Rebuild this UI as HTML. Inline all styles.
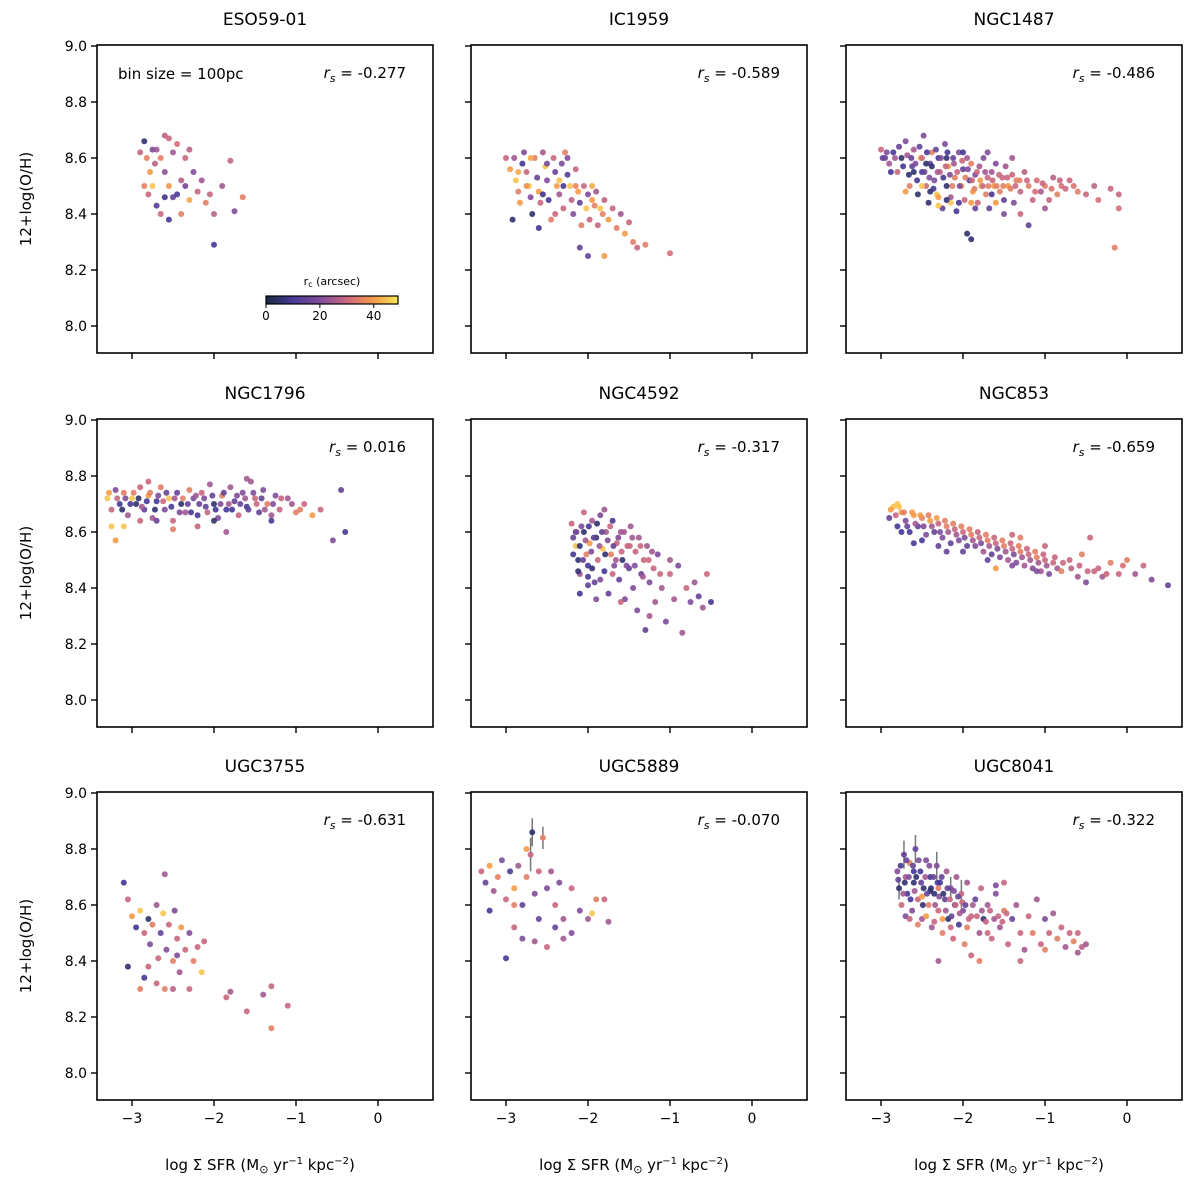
<!DOCTYPE html>
<html><head><meta charset="utf-8">
<style>
html,body{margin:0;padding:0;background:#fff;}
svg{display:block;font-family:"DejaVu Sans","Liberation Sans",sans-serif;}
</style></head>
<body>
<svg id="fig" width="1200" height="1184" viewBox="0 0 1200 1184" xmlns="http://www.w3.org/2000/svg"></svg>
<script>
const panelNames=["ESO59-01","IC1959","NGC1487","NGC1796","NGC4592","NGC853","UGC3755","UGC5889","UGC8041"];
const rsValues=["-0.277","-0.589","-0.486","0.016","-0.317","-0.659","-0.631","-0.070","-0.322"];
const xTicks=[-3,-2,-1,0];
const yTicks=[8.0,8.2,8.4,8.6,8.8,9.0];
const cbTicks=[0,20,40];
const d0=[[-2.9,8.62,30],[-2.85,8.66,5],[-2.82,8.6,35],[-2.78,8.55,40],[-2.75,8.5,45],[-2.8,8.47,30],[-2.72,8.58,28],[-2.7,8.63,25],[-2.65,8.6,35],[-2.6,8.68,28],[-2.55,8.67,30],[-2.5,8.62,25],[-2.45,8.65,32],[-2.6,8.55,22],[-2.55,8.5,40],[-2.5,8.46,15],[-2.45,8.47,10],[-2.4,8.4,35],[-2.35,8.6,30],[-2.3,8.63,28],[-2.25,8.55,20],[-2.2,8.48,30],[-2.15,8.52,25],[-2.1,8.44,35],[-2.05,8.47,30],[-2.0,8.4,28],[-1.9,8.5,25],[-1.8,8.59,30],[-1.75,8.41,20],[-1.65,8.46,35],[-2.0,8.29,10],[-2.55,8.38,10],[-2.7,8.43,12],[-2.65,8.4,30],[-2.85,8.5,35],[-2.4,8.52,28],[-2.3,8.45,42],[-2.35,8.5,18],[-2.6,8.46,8],[-2.75,8.63,20]];
const d1=[[-3.0,8.6,30],[-2.95,8.56,40],[-2.9,8.6,25],[-2.88,8.52,45],[-2.85,8.48,35],[-2.83,8.44,40],[-2.8,8.58,10],[-2.78,8.62,20],[-2.75,8.55,30],[-2.72,8.5,45],[-2.7,8.46,20],[-2.68,8.4,5],[-2.65,8.6,35],[-2.62,8.53,15],[-2.6,8.48,40],[-2.58,8.44,30],[-2.55,8.62,25],[-2.52,8.57,45],[-2.5,8.52,20],[-2.48,8.45,10],[-2.45,8.38,35],[-2.42,8.6,30],[-2.4,8.55,15],[-2.38,8.5,40],[-2.35,8.47,25],[-2.32,8.58,20],[-2.3,8.42,30],[-2.28,8.62,35],[-2.25,8.54,12],[-2.22,8.5,45],[-2.2,8.45,28],[-2.18,8.4,20],[-2.15,8.56,30],[-2.12,8.48,40],[-2.1,8.44,15],[-2.08,8.36,35],[-2.05,8.5,30],[-2.02,8.42,45],[-2.0,8.47,20],[-1.98,8.38,30],[-1.95,8.45,40],[-1.92,8.43,35],[-1.9,8.48,25],[-1.88,8.36,30],[-1.85,8.42,45],[-1.82,8.4,35],[-1.8,8.45,28],[-1.75,8.38,40],[-1.7,8.42,30],[-1.65,8.35,35],[-1.6,8.4,25],[-1.55,8.33,40],[-1.5,8.37,30],[-1.45,8.3,35],[-1.4,8.28,30],[-1.3,8.29,35],[-1.0,8.26,32],[-2.1,8.28,15],[-2.0,8.25,15],[-1.8,8.25,40],[-2.92,8.38,5],[-2.6,8.35,8],[-2.4,8.4,30],[-2.3,8.5,10],[-2.7,8.6,42],[-2.85,8.55,42],[-2.75,8.5,38],[-2.5,8.58,18],[-2.35,8.52,44],[-2.15,8.5,36],[-1.95,8.5,42],[-2.55,8.47,8],[-2.25,8.6,20]];
const d2=[[-3.0,8.63,30],[-2.95,8.6,15],[-2.9,8.58,25],[-2.85,8.62,10],[-2.8,8.55,30],[-2.75,8.6,5],[-2.7,8.66,20],[-2.65,8.5,35],[-2.62,8.57,15],[-2.6,8.63,25],[-2.55,8.47,5],[-2.52,8.6,45],[-2.5,8.55,10],[-2.48,8.68,20],[-2.45,8.5,30],[-2.42,8.44,5],[-2.4,8.58,15],[-2.38,8.62,35],[-2.35,8.52,20],[-2.32,8.47,45],[-2.3,8.6,10],[-2.28,8.55,30],[-2.25,8.42,15],[-2.22,8.65,20],[-2.2,8.5,5],[-2.18,8.57,40],[-2.15,8.46,25],[-2.12,8.6,15],[-2.1,8.53,35],[-2.08,8.41,10],[-2.05,8.62,20],[-2.02,8.5,40],[-2.0,8.56,15],[-1.98,8.45,30],[-1.95,8.6,25],[-1.92,8.52,10],[-1.9,8.58,35],[-1.88,8.48,40],[-1.85,8.54,20],[-1.82,8.44,30],[-1.8,8.57,25],[-1.78,8.5,45],[-1.75,8.6,20],[-1.72,8.47,35],[-1.7,8.53,30],[-1.68,8.42,15],[-1.65,8.55,25],[-1.62,8.5,40],[-1.6,8.58,20],[-1.55,8.48,35],[-1.52,8.53,30],[-1.5,8.45,15],[-1.48,8.57,25],[-1.45,8.5,40],[-1.4,8.54,30],[-1.38,8.44,20],[-1.35,8.52,35],[-1.3,8.48,30],[-1.25,8.55,28],[-1.2,8.5,35],[-1.15,8.45,30],[-1.1,8.52,32],[-1.05,8.48,25],[-1.0,8.5,35],[-0.95,8.45,30],[-0.9,8.53,28],[-0.85,8.47,35],[-0.8,8.5,32],[-0.7,8.52,30],[-0.6,8.48,35],[-0.5,8.47,30],[-0.4,8.5,28],[-0.35,8.45,32],[-0.2,8.49,30],[-0.15,8.28,35],[-0.1,8.42,32],[-0.1,8.47,30],[-1.95,8.33,5],[-1.9,8.31,5],[-1.5,8.4,20],[-1.3,8.4,30],[-1.2,8.36,15],[-1.0,8.42,25],[-2.3,8.43,45],[-2.6,8.55,5],[-2.45,8.58,5],[-2.2,8.6,5],[-2.0,8.62,10],[-1.7,8.62,20],[-1.4,8.6,25],
[-2.98,8.6,15],[-2.93,8.62,20],[-2.88,8.55,10],[-2.83,8.6,25],[-2.78,8.64,15],[-2.73,8.57,10],[-2.68,8.61,25],[-2.66,8.54,5],[-2.63,8.6,15],[-2.58,8.58,20],[-2.56,8.52,10],[-2.53,8.64,15],[-2.5,8.6,30],[-2.47,8.55,15],[-2.44,8.62,10],[-2.41,8.53,20],[-2.38,8.57,5],[-2.36,8.49,10],[-2.33,8.63,15],[-2.31,8.55,25],[-2.27,8.6,20],[-2.24,8.53,10],[-2.21,8.57,30],[-2.19,8.62,10],[-2.16,8.54,20],[-2.13,8.5,35],[-2.11,8.58,25],[-2.07,8.55,30],[-2.04,8.5,20],[-2.01,8.59,30],[-1.97,8.53,35],[-1.94,8.56,20],[-1.89,8.52,30],[-1.86,8.49,35],[-1.83,8.55,30],[-1.79,8.52,40],[-1.76,8.5,30],[-1.73,8.55,25],[-1.69,8.5,35],[-1.64,8.52,30],[-1.59,8.5,35],[-1.56,8.54,30],[-1.51,8.5,35],[-1.46,8.53,30],[-1.42,8.49,35],[-1.36,8.5,30],[-1.31,8.52,35],[-1.22,8.52,30],[-1.12,8.48,32],[-1.03,8.51,30],[-0.92,8.49,33],[-0.82,8.52,30],[-0.75,8.49,30],[-0.65,8.5,33],[-2.7,8.48,40],[-2.5,8.5,45],[-2.3,8.46,40],[-2.15,8.44,45],[-1.9,8.44,40],[-1.6,8.44,40],[-2.4,8.48,5],[-2.2,8.45,5],[-2.05,8.44,10],[-1.85,8.42,15],[-1.65,8.47,10]];
const d3=[[-3.3,8.72,45],[-3.25,8.68,30],[-3.2,8.75,20],[-3.2,8.57,40],[-3.15,8.7,10],[-3.1,8.74,35],[-3.05,8.66,25],[-3.0,8.72,45],[-2.95,8.7,5],[-2.9,8.76,30],[-2.85,8.68,15],[-2.8,8.73,40],[-2.75,8.65,25],[-2.7,8.71,10],[-2.65,8.76,35],[-2.6,8.68,20],[-2.55,8.72,45],[-2.5,8.64,30],[-2.45,8.74,15],[-2.4,8.7,5],[-2.35,8.67,25],[-2.3,8.75,35],[-2.25,8.72,20],[-2.2,8.66,10],[-2.15,8.74,30],[-2.1,8.69,15],[-2.05,8.77,25],[-2.0,8.7,5],[-1.95,8.65,20],[-1.9,8.73,35],[-1.85,8.68,10],[-1.8,8.76,25],[-1.75,8.71,15],[-1.7,8.66,30],[-1.65,8.74,20],[-1.6,8.69,10],[-1.55,8.78,25],[-1.5,8.72,30],[-1.45,8.67,15],[-1.4,8.75,20],[-1.35,8.7,35],[-1.3,8.66,25],[-1.25,8.73,20],[-1.2,8.68,30],[-1.1,8.72,25],[-1.0,8.67,35],[-0.9,8.7,30],[-0.8,8.66,40],[-0.7,8.68,30],[-0.45,8.75,15],[-0.55,8.57,20],[-0.4,8.6,10],[-3.1,8.62,45],[-2.9,8.64,30],[-2.5,8.61,35],[-2.2,8.62,30],[-1.85,8.6,25],[-2.0,8.64,5],[-2.7,8.64,15],[-1.3,8.64,10],[-3.25,8.62,45],[-2.8,8.78,30],[-1.6,8.79,25],
[-3.28,8.74,40],[-3.18,8.72,30],[-3.12,8.68,5],[-3.08,8.72,20],[-3.02,8.7,10],[-2.98,8.74,35],[-2.92,8.72,5],[-2.88,8.69,25],[-2.82,8.71,10],[-2.78,8.74,35],[-2.72,8.68,5],[-2.68,8.73,20],[-2.62,8.71,30],[-2.58,8.74,15],[-2.52,8.69,10],[-2.48,8.72,25],[-2.42,8.67,20],[-2.38,8.72,35],[-2.32,8.7,15],[-2.28,8.67,10],[-2.22,8.73,25],[-2.18,8.7,15],[-2.12,8.72,20],[-2.08,8.67,30],[-2.02,8.73,15],[-1.98,8.68,10],[-1.92,8.7,20],[-1.88,8.74,15],[-1.82,8.7,25],[-1.78,8.68,10],[-1.72,8.73,20],[-1.68,8.7,15],[-1.62,8.72,25],[-1.58,8.68,15],[-1.52,8.74,20],[-1.48,8.7,30],[-1.42,8.72,15],[-1.38,8.68,25],[-1.28,8.7,20],[-1.18,8.72,30],[-1.05,8.7,25],[-0.95,8.68,35]];
const d4=[[-2.2,8.63,30],[-2.18,8.58,15],[-2.15,8.55,45],[-2.12,8.5,5],[-2.1,8.45,25],[-2.08,8.62,20],[-2.05,8.6,5],[-2.02,8.52,35],[-2.0,8.48,10],[-1.98,8.56,40],[-1.95,8.64,25],[-1.92,8.42,15],[-1.9,8.58,5],[-1.88,8.5,30],[-1.85,8.66,20],[-1.82,8.54,45],[-1.8,8.46,10],[-1.78,8.6,25],[-1.75,8.38,15],[-1.72,8.52,35],[-1.7,8.64,10],[-1.68,8.48,20],[-1.65,8.56,30],[-1.62,8.43,15],[-1.6,8.6,25],[-1.58,8.5,5],[-1.55,8.36,20],[-1.52,8.55,30],[-1.5,8.47,15],[-1.48,8.62,25],[-1.45,8.4,20],[-1.42,8.53,30],[-1.4,8.32,20],[-1.38,8.58,25],[-1.35,8.45,15],[-1.32,8.5,30],[-1.3,8.25,15],[-1.28,8.55,25],[-1.25,8.42,20],[-1.2,8.47,30],[-1.18,8.35,25],[-1.15,8.52,20],[-1.1,8.4,25],[-1.05,8.28,20],[-1.0,8.45,30],[-0.95,8.36,25],[-0.9,8.48,20],[-0.85,8.24,25],[-0.8,8.4,30],[-0.75,8.35,20],[-0.7,8.42,25],[-0.65,8.37,15],[-0.6,8.33,25],[-0.55,8.45,30],[-0.5,8.35,10],[-2.1,8.38,10],[-2.0,8.41,15],[-1.9,8.36,20],[-2.05,8.67,30],[-1.8,8.68,25],[-1.6,8.35,30],[-1.25,8.3,25],[-1.0,8.5,25],[-2.15,8.6,10],[-1.95,8.47,5],
[-2.18,8.52,10],[-2.14,8.6,20],[-2.1,8.55,5],[-2.06,8.5,15],[-2.03,8.57,25],[-1.99,8.62,10],[-1.96,8.53,20],[-1.93,8.58,15],[-1.89,8.63,5],[-1.86,8.55,25],[-1.83,8.6,15],[-1.79,8.52,5],[-1.76,8.57,20],[-1.73,8.62,30],[-1.69,8.55,15],[-1.66,8.5,25],[-1.63,8.58,20],[-1.59,8.53,30],[-1.56,8.6,25],[-1.53,8.48,20],[-1.49,8.55,30],[-1.46,8.58,25],[-1.43,8.48,20],[-1.36,8.55,30],[-1.33,8.44,25],[-1.26,8.5,30],[-1.22,8.53,25],[-1.12,8.45,30],[-2.12,8.46,5],[-2.0,8.44,10],[-1.85,8.43,20],[-1.7,8.45,30]];
const d5=[[-2.9,8.65,15],[-2.85,8.69,45],[-2.8,8.62,10],[-2.75,8.67,40],[-2.7,8.64,20],[-2.65,8.6,10],[-2.6,8.66,40],[-2.55,8.62,15],[-2.5,8.65,35],[-2.45,8.59,20],[-2.4,8.64,40],[-2.35,8.6,15],[-2.3,8.63,30],[-2.25,8.58,20],[-2.2,8.62,35],[-2.15,8.56,15],[-2.1,8.61,30],[-2.05,8.57,20],[-2.0,8.6,30],[-1.95,8.55,15],[-1.9,8.59,35],[-1.85,8.55,20],[-1.8,8.58,30],[-1.75,8.53,25],[-1.7,8.57,35],[-1.65,8.52,15],[-1.6,8.56,30],[-1.55,8.51,20],[-1.5,8.55,35],[-1.45,8.5,25],[-1.4,8.54,30],[-1.35,8.49,20],[-1.3,8.53,35],[-1.25,8.48,25],[-1.2,8.52,30],[-1.15,8.47,20],[-1.1,8.51,35],[-1.05,8.46,25],[-1.0,8.5,30],[-0.95,8.45,20],[-0.9,8.49,30],[-0.85,8.47,25],[-0.8,8.46,35],[-0.7,8.5,30],[-0.6,8.44,25],[-0.55,8.52,35],[-0.5,8.42,20],[-0.4,8.46,30],[-0.3,8.44,25],[-0.2,8.49,35],[-0.1,8.45,30],[0.0,8.5,35],[0.1,8.45,25],[0.2,8.48,30],[0.3,8.43,20],[0.5,8.41,15],[-1.4,8.59,30],[-2.2,8.53,15],[-1.6,8.47,40],[-1.3,8.58,35],[-2.8,8.7,45],[-2.6,8.56,10],[-1.0,8.55,30],[-0.45,8.58,30],
[-2.88,8.68,40],[-2.82,8.66,30],[-2.78,8.69,45],[-2.72,8.67,35],[-2.68,8.62,15],[-2.62,8.67,40],[-2.58,8.63,25],[-2.52,8.66,40],[-2.48,8.62,20],[-2.42,8.66,35],[-2.38,8.62,25],[-2.32,8.65,40],[-2.28,8.6,20],[-2.22,8.64,35],[-2.18,8.6,25],[-2.12,8.63,35],[-2.08,8.59,25],[-2.02,8.62,35],[-1.98,8.58,20],[-1.92,8.61,35],[-1.88,8.57,25],[-1.82,8.6,30],[-1.78,8.56,20],[-1.72,8.59,35],[-1.68,8.55,25],[-1.62,8.58,30],[-1.58,8.54,20],[-1.52,8.57,35],[-1.48,8.53,25],[-1.42,8.56,30],[-1.38,8.52,20],[-1.32,8.55,35],[-1.28,8.51,25],[-1.22,8.54,30],[-1.18,8.5,25],[-1.12,8.53,35],[-1.08,8.49,25],[-1.02,8.52,30],[-0.98,8.48,25],[-0.88,8.51,30],[-0.78,8.49,30],[-0.68,8.47,28],[-0.58,8.48,30],[-0.48,8.46,30],[-0.35,8.47,30],[-0.25,8.45,30],[-0.05,8.48,32],[-2.75,8.6,10],[-2.5,8.57,10],[-2.3,8.55,15],[-2.0,8.53,15],[-1.7,8.5,15],[-1.4,8.48,20],[-1.1,8.46,20]];
const d6=[[-3.1,8.68,10],[-3.05,8.62,30],[-3.0,8.56,40],[-2.95,8.52,10],[-2.9,8.58,45],[-2.85,8.5,30],[-2.8,8.55,5],[-2.78,8.46,20],[-2.75,8.53,35],[-2.7,8.6,25],[-2.68,8.41,30],[-2.65,8.5,15],[-2.62,8.57,45],[-2.6,8.71,25],[-2.58,8.44,20],[-2.55,8.53,30],[-2.5,8.4,35],[-2.48,8.58,20],[-2.45,8.48,30],[-2.42,8.36,25],[-2.4,8.52,40],[-2.35,8.44,30],[-2.3,8.5,20],[-2.25,8.4,35],[-2.2,8.45,30],[-2.15,8.36,45],[-2.12,8.47,30],[-2.8,8.38,30],[-2.9,8.3,35],[-2.7,8.32,30],[-2.6,8.3,35],[-2.5,8.3,28],[-3.05,8.38,5],[-2.85,8.34,10],[-1.85,8.27,30],[-1.8,8.29,25],[-1.6,8.22,30],[-1.4,8.28,25],[-1.3,8.31,30],[-1.3,8.16,35],[-1.1,8.24,30],[-2.45,8.42,20],[-2.3,8.3,30]];
const d7=[[-3.3,8.72,30],[-3.25,8.68,15],[-3.2,8.74,40],[-3.15,8.65,25],[-3.1,8.7,35],[-3.05,8.76,20],[-3.0,8.62,30],[-2.95,8.72,10],[-2.9,8.66,40],[-2.85,8.74,25],[-2.8,8.6,15],[-2.75,8.7,35],[-2.7,8.78,30],[-2.68,8.86,5],[-2.65,8.64,20],[-2.6,8.72,30],[-2.55,8.84,35],[-2.5,8.66,20],[-2.45,8.72,25],[-2.4,8.6,30],[-2.35,8.68,20],[-2.3,8.55,25],[-2.2,8.66,30],[-2.1,8.58,20],[-2.0,8.55,25],[-1.9,8.62,35],[-1.8,8.62,30],[-1.95,8.57,45],[-1.75,8.54,25],[-2.9,8.52,30],[-2.8,8.48,20],[-3.0,8.41,10],[-2.65,8.47,25],[-2.5,8.45,30],[-2.3,8.48,25],[-2.2,8.5,20],[-2.4,8.52,15],[-3.2,8.58,10],[-2.9,8.6,35],[-2.6,8.55,15],[-2.75,8.8,40]];
const d8=[[-2.8,8.72,20],[-2.78,8.66,5],[-2.75,8.6,30],[-2.72,8.78,15],[-2.7,8.7,25],[-2.68,8.64,10],[-2.65,8.75,35],[-2.62,8.58,20],[-2.6,8.68,5],[-2.58,8.8,15],[-2.55,8.62,30],[-2.52,8.72,10],[-2.5,8.55,25],[-2.48,8.66,5],[-2.45,8.76,20],[-2.42,8.6,35],[-2.4,8.7,10],[-2.38,8.52,25],[-2.35,8.64,5],[-2.32,8.74,20],[-2.3,8.58,30],[-2.28,8.68,10],[-2.25,8.5,35],[-2.22,8.62,15],[-2.2,8.72,25],[-2.18,8.55,5],[-2.15,8.66,20],[-2.12,8.48,30],[-2.1,8.6,15],[-2.08,8.7,25],[-2.05,8.53,10],[-2.02,8.64,30],[-2.0,8.58,20],[-1.98,8.46,35],[-1.95,8.68,25],[-1.9,8.56,30],[-1.85,8.62,15],[-1.8,8.5,25],[-1.78,8.66,30],[-1.75,8.55,5],[-1.7,8.6,25],[-1.65,8.48,30],[-1.6,8.64,20],[-1.55,8.52,25],[-1.5,8.58,35],[-1.45,8.46,30],[-1.4,8.55,15],[-1.35,8.6,25],[-1.3,8.5,30],[-1.25,8.44,25],[-1.2,8.56,30],[-1.15,8.5,35],[-1.1,8.62,25],[-1.05,8.46,30],[-1.0,8.55,20],[-0.95,8.5,30],[-0.9,8.57,25],[-0.85,8.48,35],[-0.8,8.52,30],[-0.75,8.45,25],[-0.7,8.5,30],[-0.65,8.47,35],[-0.6,8.5,30],[-0.55,8.45,28],[-0.5,8.46,25],[-0.6,8.43,25],[-1.6,8.67,20],[-1.5,8.68,30],[-1.9,8.42,30],[-1.8,8.4,35],[-2.3,8.4,25],[-1.3,8.4,30],[-1.0,8.44,35],[-2.4,8.65,5],[-2.6,8.72,10],[-2.7,8.56,20],
[-2.79,8.69,15],[-2.76,8.74,10],[-2.73,8.64,25],[-2.71,8.68,5],[-2.69,8.76,15],[-2.66,8.7,20],[-2.64,8.62,10],[-2.61,8.74,15],[-2.59,8.65,25],[-2.57,8.7,5],[-2.54,8.76,20],[-2.51,8.68,15],[-2.49,8.6,5],[-2.46,8.7,25],[-2.44,8.64,15],[-2.41,8.74,20],[-2.39,8.66,5],[-2.36,8.7,15],[-2.34,8.6,25],[-2.31,8.68,10],[-2.29,8.63,20],[-2.26,8.7,15],[-2.24,8.64,5],[-2.21,8.58,25],[-2.19,8.66,15],[-2.16,8.62,30],[-2.14,8.56,15],[-2.11,8.65,20],[-2.09,8.6,30],[-2.06,8.63,15],[-2.04,8.57,25],[-2.01,8.61,30],[-1.97,8.6,15],[-1.93,8.55,30],[-1.88,8.6,25],[-1.83,8.56,30],[-1.77,8.58,25],[-1.72,8.54,30],[-1.67,8.58,30],[-1.62,8.55,25],[-1.57,8.56,30],[-1.52,8.54,30],[-1.47,8.57,30],[-2.65,8.55,30],[-2.55,8.53,35],[-2.45,8.56,40],[-2.35,8.54,30],[-2.25,8.55,40],[-2.15,8.52,30],[-1.95,8.52,35],[-1.7,8.5,30],[-2.5,8.63,40],[-2.3,8.66,35]];
const panelData=[d0,d1,d2,d3,d4,d5,d6,d7,d8];
const errIdx=[[],[],[],[],[],[],[],[12,16,13],[3,9,19,1,31,26]];
const errLen=[[],[],[],[],[],[],[],[0.06,0.04,0.05],[0.05,0.05,0.05,0.04,0.05,0.04]];

const NS="http://www.w3.org/2000/svg";
const svg=document.getElementById('fig');
function el(t,a,p){const e=document.createElementNS(NS,t);for(const k in a)e.setAttribute(k,a[k]);(p||svg).appendChild(e);return e;}
const stops=[[0,[26,42,68]],[0.2,[70,56,150]],[0.45,[140,80,155]],[0.65,[215,110,120]],[0.82,[245,155,70]],[1,[248,232,90]]];
function cmap(v){let t=Math.max(0,Math.min(1,v/49));for(let i=1;i<stops.length;i++){if(t<=stops[i][0]){const a=stops[i-1],b=stops[i];const f=(t-a[0])/(b[0]-a[0]);const c=a[1].map((x,j)=>Math.round(x+(b[1][j]-x)*f));return `rgb(${c})`;}}return 'rgb(248,232,90)';}
const lefts=[97,471,846],tops=[45,419,792],W=336,H=308;
const defs=el('defs',{});
const lg=el('linearGradient',{id:'cbg',x1:'0',x2:'1',y1:'0',y2:'0'},defs);
for(let i=0;i<=10;i++){el('stop',{offset:i/10,'stop-color':cmap(i*4.9)},lg);}

panelNames.forEach((name,p)=>{
  const L=lefts[p%3],T=tops[Math.floor(p/3)];
  const row=Math.floor(p/3),col=p%3;
  const xs=v=>L+35+(v+3)*82;
  const ys=v=>T+1+(9-v)*280;
  const g=el('g',{});
  
  
  const title=el('text',{x:L+W/2,y:T-20,'text-anchor':'middle','font-size':17},g);
  title.textContent=name;
  
  
  const pts=el('g',{},g);
  
  
  const data=panelData[p];
  errIdx[p].forEach((ix,k)=>{const d=data[ix];const eb=el('line',{x1:xs(d[0]),x2:xs(d[0]),y1:ys(d[1]+errLen[p][k]),y2:ys(d[1]-errLen[p][k]),stroke:'#777','stroke-width':1.5},pts);
    
    });
  data.forEach(d=>{const c=el('circle',{cx:xs(d[0]),cy:ys(d[1]),r:3,fill:cmap(d[2]),'fill-opacity':0.9},pts);
    
    });
  const fr=el('rect',{x:L,y:T,width:W,height:H,fill:'none',stroke:'#000','stroke-width':1.6},g);
  
  
  xTicks.forEach(v=>{el('line',{x1:xs(v),x2:xs(v),y1:T+H,y2:T+H+6,stroke:'#000','stroke-width':1.4},g);
    if(row===2){const t=el('text',{x:xs(v),y:T+H+23,'text-anchor':'middle','font-size':14},g);t.textContent=v===0?'0':'\u2212'+Math.abs(v);
      
      }});
  yTicks.forEach(v=>{el('line',{x1:L-6,x2:L,y1:ys(v),y2:ys(v),stroke:'#000','stroke-width':1.4},g);
    if(col===0){const t=el('text',{x:L-10,y:ys(v)+5,'text-anchor':'end','font-size':14},g);t.textContent=v.toFixed(1);
      
      }});
  const rs=el('text',{x:L+309,y:T+33,'text-anchor':'end','font-size':15},g);
  rs.innerHTML='<tspan font-style="italic">r</tspan><tspan font-style="italic" font-size="11" dy="4">s</tspan><tspan dy="-4"> = '+rsValues[p]+'</tspan>';
  
  
  if(col===0){const yl=el('text',{transform:`translate(${L-66},${T+H/2}) rotate(-90)`,'text-anchor':'middle','font-size':15},g);yl.textContent='12+log(O/H)';
    
    }
  if(row===2){const xl=el('text',{x:L+W/2-5,y:T+H+70,'text-anchor':'middle','font-size':15},g);
    xl.innerHTML='log \u03A3 SFR (M<tspan font-size="11" dy="3">\u2299</tspan><tspan dy="-3"> yr</tspan><tspan font-size="10" dy="-6">\u22121</tspan><tspan dy="6"> kpc</tspan><tspan font-size="10" dy="-6">\u22122</tspan><tspan dy="6">)</tspan>';
    
    }
  if(p===0){
    const b=el('text',{x:118,y:79,'font-size':15},g);b.textContent='bin size = 100pc';
    
    
    const cb=el('g',{},g);
    
    
    el('rect',{x:266,y:296,width:132,height:8,fill:'url(#cbg)',stroke:'#000','stroke-width':1.2},cb);
    const ct=el('text',{x:332,y:285,'text-anchor':'middle','font-size':11},cb);ct.innerHTML='r<tspan font-size="8" dy="2">c</tspan><tspan dy="-2"> (arcsec)</tspan>';
    cbTicks.forEach(v=>{const x=266+v/49*132;el('line',{x1:x,x2:x,y1:304,y2:308,stroke:'#000'},cb);
      const t=el('text',{x:x,y:320,'text-anchor':'middle','font-size':12},cb);t.textContent=v;});
  }
});
</script>
</body></html>
